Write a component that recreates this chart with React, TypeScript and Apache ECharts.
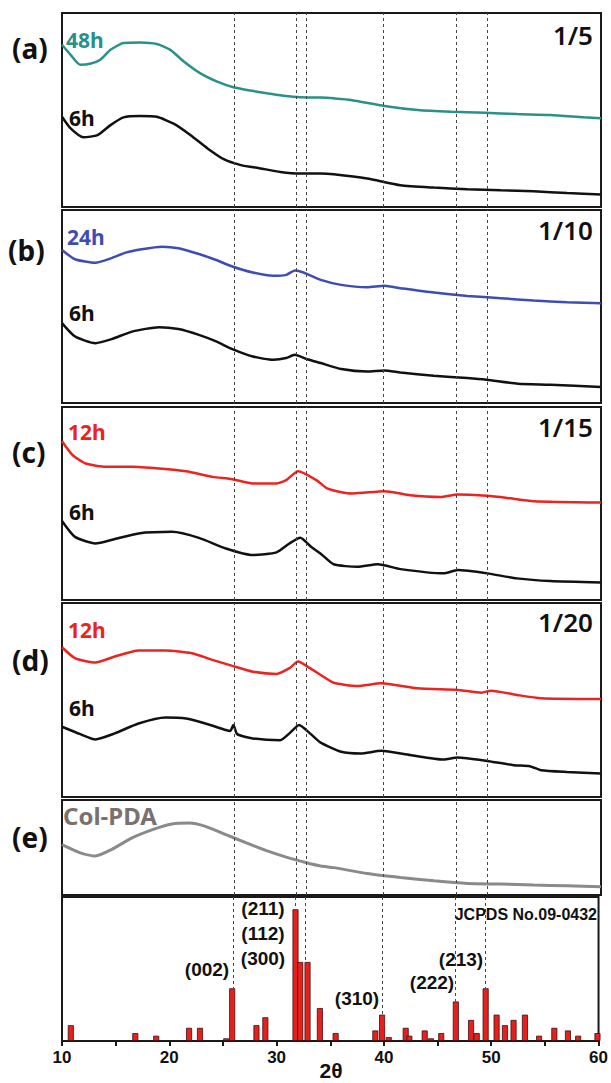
import { useEffect, useRef } from "react";
import * as echarts from "echarts";

// ---- data (2θ, relative intensity within each panel, 0-100) ----
const panelA_48h: number[][] = [[10,83.6],[10.8,78.4],[11.7,73.3],[12.6,73.8],[13.55,75.9],[14.5,81],[15.7,84.5],[17.25,84.8],[18.8,84],[20.05,81],[21.3,75],[22.8,69],[24.4,64.6],[25.9,61.7],[27.5,60],[29,58.6],[30.55,57.4],[32.1,56.6],[34,56.4],[35.2,56],[36.8,55.2],[39.9,52.1],[43,50],[46.1,49.1],[49.2,48.6],[52.2,47.9],[55.3,47.4],[58.4,46.2],[60,45.7]];
const panelA_6h: number[][] = [[10,46.5],[10.8,40.5],[12,35.9],[13.3,37.1],[14.5,42.2],[15.7,46.2],[17.25,46.9],[18.8,46.5],[20.4,42.8],[21.9,37.1],[23.5,30.2],[25.05,24.5],[26.6,21.6],[28.4,19.9],[30.25,18.1],[32.1,17.3],[34,17.3],[35.2,16.9],[38.3,14.7],[41.4,11.2],[44.5,10],[47.6,9.2],[50.7,8.6],[53.75,8.1],[56.85,7.2],[60,6.4]];
const panelB_24h: number[][] = [[10,79.3],[11.2,74.5],[13.1,72.7],[14.3,74.5],[15.9,77.9],[17.4,79.7],[19.3,81],[20.8,80.2],[22.7,77.2],[24.3,74.1],[25.8,70.7],[27.7,67.6],[29.6,65.9],[30.8,66.4],[31.6,68.6],[32.4,67.6],[34,63.8],[35.9,61.2],[38.3,60],[39.9,60.7],[41.4,59.5],[44.5,57.2],[47.6,55.5],[50.7,54.3],[53.75,53.1],[56.85,52.2],[60,51.7]];
const panelB_6h: number[][] = [[10,41.4],[11.2,34.5],[13.1,31],[14.6,33.1],[16.5,37],[19,39.3],[20.8,38.3],[22.7,35.3],[24.3,31.9],[25.8,27.9],[27.7,24.1],[29.6,22.4],[30.8,23.3],[31.6,25],[32.7,22.8],[34,20.7],[35.9,17.6],[38.3,16.3],[39.9,16.9],[41.4,15.8],[44.5,14.1],[47.6,12.9],[49.4,12],[52.3,10],[55.3,9.5],[60,8.3]];
const panelC_12h: number[][] = [[10,82.3],[11,75],[12.2,70.7],[14.1,69],[16.5,69],[19,68.1],[21.5,66.7],[23.95,63.8],[25.8,62.6],[27.7,60.4],[29.9,60.4],[30.8,62.1],[31.9,66.7],[33.6,62.1],[34.6,57.8],[35.8,56],[37,55.2],[39.9,56.4],[42.3,54.3],[45.1,53.4],[46.7,54.7],[49.45,54],[51.3,52.9],[53.75,51.2],[60,50.5]];
const panelC_6h: number[][] = [[10,40.9],[11.2,32.7],[13.1,29.3],[14.9,31.6],[17.1,34.5],[20.2,35.3],[22.7,32.2],[25.2,26.7],[27.7,23.3],[29.9,24.7],[31.1,29.3],[32.1,32.2],[33.1,27.6],[34,24],[35.2,18.5],[37.4,17.2],[39.3,18.5],[41.4,16],[45.4,13.8],[46.7,15.5],[49.45,13.8],[52.2,11.2],[55.3,9.8],[60,9.1]];
const panelD_12h: number[][] = [[10,77.2],[11.2,71.6],[13.1,69.3],[14.9,72.4],[17.1,75.5],[19.6,75.5],[22.05,74.1],[23.95,70.7],[25.8,67.6],[27.7,64.6],[29.9,63.4],[31.1,66.4],[31.9,69.8],[33,66.4],[34,62.9],[35.2,58.9],[37.4,57.2],[39.6,58.6],[43,56],[46.7,55.2],[48.9,53.8],[49.8,54.8],[52.2,52.6],[54.45,50.9],[60,50.5]];
const panelD_6h: number[][] = [[10,36.2],[11.7,32.4],[13.1,29.7],[14.9,32.8],[17.1,37.9],[19.6,41],[21.5,40.5],[23.3,37.9],[25.2,34.5],[25.6,34],[25.9,37.1],[26.25,32.4],[27.7,30.2],[30.25,29.3],[31.1,32.8],[32,37.1],[33,32.8],[34,28],[35.9,23.3],[37.7,22.4],[39.6,23.8],[42.3,21.6],[45.4,19.3],[46.7,20.4],[49.45,18.6],[51.9,16.4],[53.4,15.9],[54.45,13.8],[56.85,12.9],[60,12.1]];
const panelE_colPDA: number[][] = [[10,53.1],[11.7,44.4],[13.1,41],[14.6,47.9],[16.5,60.1],[18.4,68.8],[20.2,74.7],[21.8,75.7],[23.3,72.2],[25.2,63.5],[27.1,54.9],[28.9,46.9],[30.8,39.9],[32.7,34],[34,30.5],[35.2,28.8],[38.3,22.6],[41.4,18.4],[44.5,14.9],[47.6,12.2],[50.7,11.5],[53.75,10.4],[56.85,9.7],[60,8.6]];

// JCPDS No.09-0432 reference peaks
const jcpdsAngles = [10.82,16.83,18.78,21.84,22.86,25.3,25.86,28.12,28.95,31.76,32.2,32.88,34.03,35.5,39.2,39.83,40.45,42.03,42.37,43.8,44.38,45.34,46.7,48.12,48.65,49.48,50.5,51.28,52.08,53.14,54.46,55.88,57.15,58.1,59.9];
const jcpdsIntensity = [12,6,4,10,10,2,40,12,18,100,60,60,25,6,8,20,3,10,4,8,2,6,30,16,6,40,20,12,16,20,4,10,8,4,6];

// reference lines (2θ) and the bar height they stop at in the JCPDS panel
const refLines = [26.0, 31.73, 32.69, 39.81, 46.61, 49.45];
const refLineStops = [40, 100, 60, 20, 30, 40];

const xTickLabels = [10, 20, 30, 40, 50, 60];
const hklLabels = ["(211)", "(112)", "(300)", "(002)", "(310)", "(222)", "(213)"];
const panelTags = ["(a)", "(b)", "(c)", "(d)", "(e)"];
const ratioLabels = ["1/5", "1/10", "1/15", "1/20"];

const TEAL = "#2a9189";
const BLUE = "#3d4db3";
const RED = "#ea2420";
const BLACK = "#111111";
const GRAY = "#8a8a8a";

export default function App() {
  const ref = useRef<HTMLDivElement>(null);
  useEffect(() => {
    if (!ref.current) return;
    const chart = echarts.init(ref.current, null, { renderer: "svg" });
    const grids = [
      { top: 13, height: 194 },
      { top: 210, height: 193 },
      { top: 407, height: 193 },
      { top: 603, height: 194 },
      { top: 800, height: 95 },
      { top: 897, height: 144 },
    ].map((g) => ({
      left: 62,
      right: 10,
      top: g.top,
      height: g.height,
      show: true,
      borderColor: "#1a1a1a",
      borderWidth: 2,
      backgroundColor: "#ffffff",
    }));
    const fMax = 109.3;
    const xAxes = grids.map((_, i) => ({
      type: "value",
      gridIndex: i,
      min: 10,
      max: 60,
      interval: 5,
      show: i === 5,
      axisLine: { show: true, onZero: false, lineStyle: { color: "#1a1a1a", width: 2 } },
      axisTick: { show: true, length: 5, lineStyle: { color: "#1a1a1a", width: 2 } },
      splitLine: { show: false },
      axisLabel: {
        show: true,
        margin: 8,
        color: "#111",
        fontFamily: "Liberation Sans, Arial",
        fontWeight: "bold",
        fontSize: 17,
        formatter: (v: number) => (xTickLabels.indexOf(v) >= 0 ? String(v) : ""),
      },
    }));
    const yAxes = grids.map((_, i) => ({
      type: "value",
      gridIndex: i,
      min: 0,
      max: i === 5 ? fMax : 100,
      show: false,
      splitLine: { show: false },
    }));
    const dashed = { type: [3, 3], color: "#444", width: 1 };
    const vLines = {
      silent: true,
      symbol: "none",
      label: { show: false },
      lineStyle: dashed,
      data: refLines.map((v) => ({ xAxis: v })),
    };
    const line = (data: number[][], idx: number, color: string, width = 2.5, withRef = false) => ({
      type: "line",
      xAxisIndex: idx,
      yAxisIndex: idx,
      data,
      showSymbol: false,
      smooth: 0.2,
      lineStyle: { color, width },
      z: 3,
      markLine: withRef ? vLines : undefined,
    });
    const series: any[] = [
      line(panelA_48h, 0, TEAL, 2.5, true),
      line(panelA_6h, 0, BLACK),
      line(panelB_24h, 1, BLUE, 2.5, true),
      line(panelB_6h, 1, BLACK),
      line(panelC_12h, 2, RED, 2.5, true),
      line(panelC_6h, 2, BLACK),
      line(panelD_12h, 3, RED, 2.5, true),
      line(panelD_6h, 3, BLACK),
      line(panelE_colPDA, 4, GRAY, 3, true),
      {
        type: "bar",
        xAxisIndex: 5,
        yAxisIndex: 5,
        barWidth: 6,
        data: jcpdsAngles.map((a, i) => [a, jcpdsIntensity[i]]),
        itemStyle: { color: "#e8201c", borderColor: "#3a1010", borderWidth: 0.8 },
        z: 3,
        markLine: {
          silent: true,
          symbol: "none",
          label: { show: false },
          lineStyle: dashed,
          data: refLines.map((v, i) => [
            { coord: [v, fMax] },
            { coord: [v, refLineStops[i]] },
          ]),
        },
      },
    ];
    const txt = (text: string, x: number, y: number, size: number, color: string, align = "left", font = "Noto Sans", weight: any = "bold") => ({
      type: "text",
      x,
      y,
      z: 10,
      style: {
        text,
        fill: color,
        font: `${weight} ${size}px ${font}`,
        textAlign: align,
        textVerticalAlign: "middle",
      },
    });
    const tagY = [48, 250, 452, 660, 837];
    const tagX = [12, 8, 12, 12, 12];
    const graphics: any[] = [
      ...panelTags.map((t, i) => txt(t, tagX[i], tagY[i], 28, "#111")),
      txt("48h", 66, 40, 21, TEAL),
      txt("6h", 69, 118, 21, "#111"),
      txt("24h", 67, 237, 21, BLUE),
      txt("6h", 69, 313, 21, "#111"),
      txt("12h", 68, 432, 21, RED),
      txt("6h", 69, 512, 21, "#111"),
      txt("12h", 68, 630, 21, RED),
      txt("6h", 69, 708, 21, "#111"),
      txt("Col-PDA", 63, 815, 24, "#78716f"),
      txt(ratioLabels[0], 593, 35, 26, "#111", "right", "Noto Sans", 600),
      txt(ratioLabels[1], 593, 230, 26, "#111", "right", "Noto Sans", 600),
      txt(ratioLabels[2], 593, 427, 26, "#111", "right", "Noto Sans", 600),
      txt(ratioLabels[3], 593, 622, 26, "#111", "right", "Noto Sans", 600),
      txt("JCPDS No.09-0432", 597, 914, 16, "#111", "right", "Liberation Sans"),
      txt(hklLabels[0], 263, 908, 19, "#111", "center", "Liberation Sans"),
      txt(hklLabels[1], 263, 933, 19, "#111", "center", "Liberation Sans"),
      txt(hklLabels[2], 263, 958, 19, "#111", "center", "Liberation Sans"),
      txt(hklLabels[3], 207, 969, 19, "#111", "center", "Liberation Sans"),
      txt(hklLabels[4], 357, 998, 19, "#111", "center", "Liberation Sans"),
      txt(hklLabels[5], 432, 982, 19, "#111", "center", "Liberation Sans"),
      txt(hklLabels[6], 461, 959, 19, "#111", "center", "Liberation Sans"),
      txt("2θ", 331, 1070, 21, "#111", "center", "Liberation Sans"),
    ];
    chart.setOption({
      animation: false,
      backgroundColor: "#ffffff",
      grid: grids,
      xAxis: xAxes,
      yAxis: yAxes,
      series,
      graphic: graphics,
    });
    return () => chart.dispose();
  }, []);
  return (
    <div
      ref={ref}
      style={{ position: "absolute", left: 0, top: 0, width: 611, height: 1083 }}
    />
  );
}
